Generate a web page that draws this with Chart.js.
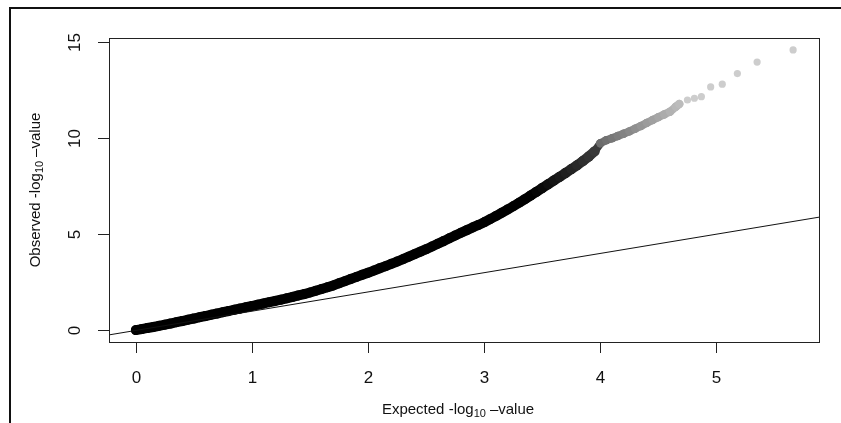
<!DOCTYPE html>
<html>
<head>
<meta charset="utf-8">
<script src="https://cdn.jsdelivr.net/npm/chart.js@4.4.1/dist/chart.umd.min.js"></script>
<style>
  html, body { margin: 0; padding: 0; background: #fff; }
  #wrap { position: relative; width: 841px; height: 423px; }
</style>
</head>
<body>
<div id="wrap"><canvas id="qqChart"></canvas></div>
<script>
/* ============================
   DATA
============================ */

const expectedLog = [
  0.00, 0.05, 0.10, 0.15, 0.20, 0.25, 0.30, 0.35, 0.40, 0.45,
  0.50, 0.55, 0.60, 0.65, 0.70, 0.75, 0.80, 0.85, 0.90, 0.95,
  1.00, 1.05, 1.10, 1.15, 1.20, 1.25, 1.30, 1.35, 1.40, 1.45,
  1.50, 1.55, 1.60, 1.65, 1.70, 1.75, 1.80, 1.85, 1.90, 1.95,
  2.00, 2.05, 2.10, 2.15, 2.20, 2.25, 2.30, 2.35, 2.40, 2.45,
  2.50, 2.55, 2.60, 2.65, 2.70, 2.75, 2.80, 2.85, 2.90, 2.95,
  3.00, 3.05, 3.10, 3.15, 3.20, 3.25, 3.30, 3.35, 3.40, 3.45,
  3.50, 3.55, 3.60, 3.65, 3.70, 3.75, 3.80, 3.85, 3.90, 3.95,
  4.00, 4.05, 4.10, 4.15, 4.20, 4.25, 4.30, 4.35, 4.40, 4.45,
  4.50, 4.55, 4.60, 4.65, 4.68, 4.75, 4.81, 4.87, 4.95, 5.05,
  5.18, 5.35, 5.66
];

const observedLog = [
  0.02, 0.07, 0.13, 0.18, 0.24, 0.30, 0.36, 0.43, 0.49, 0.56,
  0.62, 0.69, 0.75, 0.82, 0.88, 0.95, 1.01, 1.08, 1.14, 1.21,
  1.27, 1.34, 1.40, 1.47, 1.53, 1.60, 1.67, 1.74, 1.82, 1.89,
  1.97, 2.06, 2.15, 2.24, 2.34, 2.45, 2.56, 2.67, 2.78, 2.89,
  3.00, 3.11, 3.23, 3.34, 3.46, 3.58, 3.70, 3.83, 3.96, 4.09,
  4.22, 4.36, 4.50, 4.64, 4.79, 4.93, 5.07, 5.21, 5.35, 5.48,
  5.62, 5.78, 5.94, 6.11, 6.28, 6.45, 6.63, 6.82, 7.01, 7.20,
  7.40, 7.59, 7.79, 7.98, 8.18, 8.38, 8.58, 8.80, 9.03, 9.30,
  9.72, 9.88, 9.98, 10.10, 10.22, 10.34, 10.48, 10.62, 10.78, 10.93,
  11.08, 11.22, 11.36, 11.62, 11.76, 11.97, 12.06, 12.14, 12.65, 12.79,
  13.34, 13.94, 14.57
];

const xTicks = [0, 1, 2, 3, 4, 5];
const yTicks = [0, 5, 10, 15];

const xTitle = ["Expected -log", "10", "\u2013value"];
const yTitle = ["Observed -log", "10", "\u2013value"];

const X_MIN = -0.2315, X_MAX = 5.883;
const Y_MIN = -0.6, Y_MAX = 15.19;

/* ============================
   HELPERS
============================ */

// dense part of the curve is black, the sparse tail fades to light grey
function shadeFor(x){
  let g;
  if(x < 3.4) g = 0;
  else if(x < 3.98) g = (x - 3.4) / 0.58 * 60;
  else if(x < 4.7) g = 105 + (x - 3.98) / 0.72 * 85;
  else g = 205;
  g = Math.round(g);
  return "rgb(" + g + "," + g + "," + g + ")";
}

function radiusFor(x){
  if(x < 3.98) return 5;
  if(x < 4.7) return 4.2;
  return 3.6;
}

// where the points overlap into a solid band
function bandWidthFor(x){
  if(x < 3.98) return 10;
  if(x < 4.7) return 8;
  return 0;
}

// "-log" + subscript 10 + "-value", centred on cx, baseline at y
function drawMathLabel(ctx, parts, cx, y){
  const big = "15px 'Liberation Sans', Arial, sans-serif";
  const small = "11px 'Liberation Sans', Arial, sans-serif";
  ctx.font = big;
  const w1 = ctx.measureText(parts[0]).width;
  const w3 = ctx.measureText(parts[2]).width;
  ctx.font = small;
  const w2 = ctx.measureText(parts[1]).width;
  const gap = 4;
  let x = cx - (w1 + w2 + gap + w3) / 2;

  ctx.textAlign = "left";
  ctx.textBaseline = "alphabetic";
  ctx.font = big;
  ctx.fillText(parts[0], x, y);
  x += w1;
  ctx.font = small;
  ctx.fillText(parts[1], x, y + 3);
  x += w2 + gap;
  ctx.font = big;
  ctx.fillText(parts[2], x, y);
}

/* ============================
   R STYLE AXES PLUGIN
============================ */

const rAxesPlugin = {
  id: "rAxes",
  beforeDraw(chart){
    const ctx = chart.ctx;
    ctx.save();
    ctx.fillStyle = "#fff";
    ctx.fillRect(0, 0, chart.width, chart.height);
    // outer figure frame
    ctx.strokeStyle = "#111";
    ctx.lineWidth = 2;
    ctx.beginPath();
    ctx.moveTo(10, chart.height);
    ctx.lineTo(10, 8);
    ctx.lineTo(chart.width, 8);
    ctx.stroke();
    ctx.restore();
  },
  afterDraw(chart){
    const ctx = chart.ctx;
    const a = chart.chartArea;
    const xs = chart.scales.x;
    const ys = chart.scales.y;
    const tickLen = 11;

    ctx.save();
    ctx.strokeStyle = "#222";
    ctx.lineWidth = 1;
    ctx.strokeRect(a.left + 0.5, a.top + 0.5, a.right - a.left, a.bottom - a.top);

    ctx.fillStyle = "#111";
    ctx.font = "17px 'Liberation Sans', Arial, sans-serif";

    // x axis
    ctx.textAlign = "center";
    ctx.textBaseline = "middle";
    xTicks.forEach(v => {
      const px = Math.round(xs.getPixelForValue(v)) + 0.5;
      ctx.beginPath();
      ctx.moveTo(px, a.bottom);
      ctx.lineTo(px, a.bottom + tickLen);
      ctx.stroke();
      ctx.fillText(String(v), px, 378);
    });

    // y axis (labels parallel to the axis)
    yTicks.forEach(v => {
      const py = Math.round(ys.getPixelForValue(v)) + 0.5;
      ctx.beginPath();
      ctx.moveTo(a.left, py);
      ctx.lineTo(a.left - tickLen, py);
      ctx.stroke();
      ctx.save();
      ctx.translate(75, py);
      ctx.rotate(-Math.PI / 2);
      ctx.fillText(String(v), 0, 0);
      ctx.restore();
    });

    // titles
    drawMathLabel(ctx, xTitle, 458, 414);

    ctx.save();
    ctx.translate(40, (a.top + a.bottom) / 2);
    ctx.rotate(-Math.PI / 2);
    drawMathLabel(ctx, yTitle, 0, 0);
    ctx.restore();

    ctx.restore();
  }
};

/* ============================
   CHART
============================ */

function renderQQ(){
  const canvas = document.getElementById("qqChart");
  if(!canvas) return;

  const points = expectedLog.map((x, i) => ({ x: x, y: observedLog[i] }));

  new Chart(canvas, {
    type: "scatter",
    data: {
      datasets: [
        {
          label: "observed",
          data: points,
          showLine: true,
          tension: 0,
          borderColor: "#000",
          borderWidth: 10,
          borderCapStyle: "round",
          borderJoinStyle: "round",
          segment: {
            borderColor: s => bandWidthFor(s.p1.parsed.x) ? shadeFor((s.p0.parsed.x + s.p1.parsed.x) / 2) : "rgba(0,0,0,0)",
            borderWidth: s => bandWidthFor(s.p1.parsed.x) || 1
          },
          pointRadius: c => radiusFor(c.raw ? c.raw.x : 0),
          pointBackgroundColor: c => shadeFor(c.raw ? c.raw.x : 0),
          pointBorderWidth: 0,
          order: 2
        },
        {
          type: "line",
          label: "y = x",
          data: [{ x: X_MIN, y: X_MIN }, { x: X_MAX, y: X_MAX }],
          borderColor: "#111",
          borderWidth: 1,
          pointRadius: 0,
          fill: false,
          order: 1
        }
      ]
    },
    options: {
      responsive: true,
      maintainAspectRatio: false,
      animation: false,
      layout: { padding: { left: 109, top: 38, right: 22, bottom: 81 } },
      scales: {
        x: { type: "linear", min: X_MIN, max: X_MAX, display: false },
        y: { type: "linear", min: Y_MIN, max: Y_MAX, display: false }
      },
      plugins: {
        legend: { display: false },
        tooltip: { enabled: false }
      }
    },
    plugins: [rAxesPlugin]
  });
}

renderQQ();
</script>
</body>
</html>
